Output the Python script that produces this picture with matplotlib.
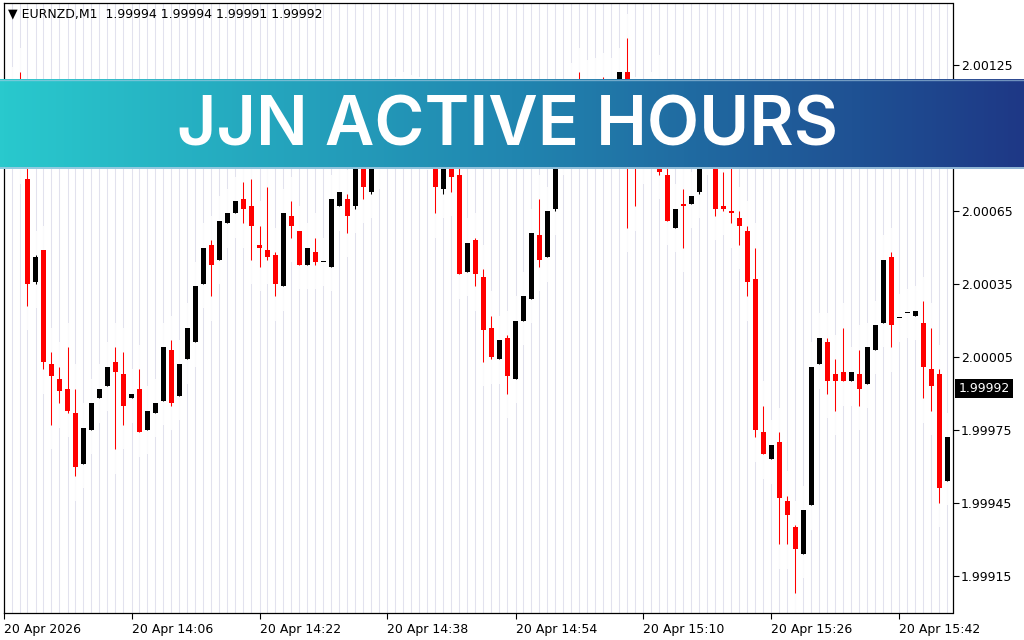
import matplotlib
matplotlib.use('Agg')
import matplotlib.pyplot as plt
import matplotlib.transforms as mtransforms
import numpy as np
from matplotlib.colors import LinearSegmentedColormap

# EURNZD M1 bars, 13:50 .. 15:48
opens = [2.00100, 2.00104, 2.00112, 2.00078, 2.00036, 2.00049, 2.00002, 1.99996, 1.99992, 1.99982,
         1.99961, 1.99975, 1.99988, 1.99993, 2.00003, 1.99998, 1.99988, 1.99992, 1.99975, 1.99982,
         1.99987, 2.00008, 1.99989, 2.00004, 2.00011, 2.00035, 2.00051, 2.00045, 2.00060, 2.00064,
         2.00070, 2.00067, 2.00051, 2.00049, 2.00047, 2.00034, 2.00063, 2.00057, 2.00043, 2.00048,
         2.00044, 2.00042, 2.00067, 2.00070, 2.00067, 2.00086, 2.00073, 2.00086, 2.00095, 2.00104,
         2.00099, 2.00108, 2.00101, 2.00106, 2.00095, 2.00074, 2.00086, 2.00080, 2.00040, 2.00053,
         2.00038, 2.00017, 2.00004, 2.00013, 1.99996, 2.00020, 2.00029, 2.00055, 2.00046, 2.00066,
         2.00092, 2.00104, 2.00118, 2.00108, 2.00114, 2.00116, 2.00108, 2.00115, 2.00122, 2.00100,
         2.00090, 2.00098, 2.00106, 2.00080, 2.00058, 2.00068, 2.00068, 2.00073, 2.00092, 2.00098,
         2.00067, 2.00065, 2.00062, 2.00057, 2.00037, 1.99974, 1.99963, 1.99970, 1.99946, 1.99935,
         1.99924, 1.99944, 2.00002, 2.00011, 1.99998, 1.99999, 1.99995, 1.99998, 1.99994, 2.00008,
         2.00019, 2.00046, 2.00021, 2.00023, 2.00022, 2.00019, 2.00000, 1.99998, 1.99954]
highs = [2.00108, 2.00114, 2.00122, 2.00086, 2.00047, 2.00049, 2.00007, 2.00001, 2.00009, 1.99992,
         1.99976, 1.99986, 1.99992, 2.00001, 2.00009, 2.00007, 1.99990, 2.00000, 1.99983, 1.99986,
         2.00009, 2.00012, 2.00002, 2.00017, 2.00034, 2.00050, 2.00053, 2.00061, 2.00064, 2.00069,
         2.00077, 2.00078, 2.00059, 2.00075, 2.00048, 2.00064, 2.00069, 2.00057, 2.00050, 2.00054,
         2.00044, 2.00070, 2.00073, 2.00072, 2.00090, 2.00090, 2.00088, 2.00098, 2.00108, 2.00110,
         2.00112, 2.00111, 2.00110, 2.00108, 2.00097, 2.00090, 2.00090, 2.00084, 2.00052, 2.00054,
         2.00041, 2.00022, 2.00012, 2.00014, 2.00020, 2.00030, 2.00056, 2.00070, 2.00065, 2.00094,
         2.00108, 2.00116, 2.00122, 2.00117, 2.00118, 2.00120, 2.00118, 2.00122, 2.00136, 2.00110,
         2.00103, 2.00112, 2.00119, 2.00084, 2.00066, 2.00074, 2.00071, 2.00095, 2.00104, 2.00104,
         2.00081, 2.00084, 2.00065, 2.00059, 2.00050, 1.99985, 1.99969, 1.99974, 1.99948, 1.99936,
         1.99942, 2.00001, 2.00013, 2.00013, 2.00004, 2.00017, 1.99999, 2.00008, 2.00009, 2.00018,
         2.00045, 2.00048, 2.00021, 2.00023, 2.00024, 2.00028, 2.00017, 2.00000, 1.99972]
lows = [2.00096, 2.00100, 2.00086, 2.00026, 2.00035, 2.00000, 1.99977, 1.99986, 1.99982, 1.99956,
        1.99961, 1.99975, 1.99988, 1.99993, 1.99967, 1.99977, 1.99988, 1.99974, 1.99975, 1.99982,
        1.99987, 1.99985, 1.99989, 2.00004, 2.00011, 2.00035, 2.00030, 2.00045, 2.00060, 2.00064,
        2.00060, 2.00045, 2.00042, 2.00045, 2.00030, 2.00034, 2.00054, 2.00043, 2.00043, 2.00043,
        2.00044, 2.00042, 2.00067, 2.00056, 2.00066, 2.00070, 2.00072, 2.00084, 2.00093, 2.00097,
        2.00097, 2.00098, 2.00099, 2.00092, 2.00064, 2.00072, 2.00073, 2.00039, 2.00040, 2.00034,
        2.00003, 2.00004, 2.00004, 1.99990, 1.99996, 2.00020, 2.00029, 2.00042, 2.00046, 2.00065,
        2.00090, 2.00102, 2.00104, 2.00106, 2.00102, 2.00104, 2.00106, 2.00113, 2.00058, 2.00067,
        2.00086, 2.00095, 2.00080, 2.00061, 2.00058, 2.00050, 2.00068, 2.00072, 2.00090, 2.00063,
        2.00065, 2.00060, 2.00051, 2.00030, 1.99972, 1.99965, 1.99963, 1.99928, 1.99928, 1.99908,
        1.99924, 1.99944, 2.00002, 1.99990, 1.99983, 1.99995, 1.99995, 1.99985, 1.99994, 2.00008,
        2.00019, 2.00009, 2.00021, 2.00023, 2.00022, 1.99988, 1.99983, 1.99945, 1.99954]
closes = [2.00104, 2.00112, 2.00088, 2.00035, 2.00046, 2.00003, 1.99997, 1.99991, 1.99983, 1.99960,
          1.99976, 1.99986, 1.99992, 2.00001, 1.99999, 1.99985, 1.99990, 1.99974, 1.99983, 1.99986,
          2.00009, 1.99986, 2.00002, 2.00017, 2.00034, 2.00050, 2.00043, 2.00061, 2.00064, 2.00069,
          2.00066, 2.00059, 2.00050, 2.00046, 2.00035, 2.00064, 2.00059, 2.00043, 2.00050, 2.00044,
          2.00044, 2.00070, 2.00073, 2.00063, 2.00088, 2.00075, 2.00086, 2.00095, 2.00104, 2.00099,
          2.00108, 2.00101, 2.00106, 2.00096, 2.00075, 2.00088, 2.00079, 2.00039, 2.00052, 2.00039,
          2.00016, 2.00005, 2.00012, 1.99997, 2.00020, 2.00030, 2.00056, 2.00045, 2.00065, 2.00092,
          2.00104, 2.00112, 2.00108, 2.00114, 2.00106, 2.00108, 2.00115, 2.00122, 2.00100, 2.00090,
          2.00098, 2.00106, 2.00081, 2.00061, 2.00066, 2.00067, 2.00071, 2.00092, 2.00102, 2.00066,
          2.00066, 2.00064, 2.00059, 2.00036, 1.99975, 1.99965, 1.99969, 1.99947, 1.99940, 1.99926,
          1.99942, 2.00001, 2.00013, 1.99995, 1.99995, 1.99995, 1.99999, 1.99992, 2.00009, 2.00018,
          2.00045, 2.00018, 2.00021, 2.00023, 2.00024, 2.00001, 1.99993, 1.99951, 1.99972]

xtick_bars = [0, 16, 32, 48, 64, 80, 96, 112]
xtick_labels = ['20 Apr 2026', '20 Apr 14:06', '20 Apr 14:22', '20 Apr 14:38',
                '20 Apr 14:54', '20 Apr 15:10', '20 Apr 15:26', '20 Apr 15:42']
yticks = [1.99915, 1.99945, 1.99975, 2.00005, 2.00035, 2.00065, 2.00095, 2.00125]
header = '\u25bc EURNZD,M1  1.99994 1.99994 1.99991 1.99992'
last_price = 1.99992
banner_text = 'JJN ACTIVE HOURS'

o = np.array(opens)
h = np.array(highs)
l = np.array(lows)
c = np.array(closes)
x = np.arange(len(o))
cols = np.where(c < o, '#ff0000', '#000000')

fig = plt.figure(figsize=(10.24, 6.4), dpi=100)
fig.patch.set_facecolor('white')
# left edge on a pixel centre so 1px wicks land on whole pixels
ax = fig.add_axes([3.5/1024, 27/640, 949/1024, 610/640])
ax.set_xlim(0, 949/8)
ax.set_ylim(1.998998, 2.001505)

# per-bar grid lines, cleared around each bar's range
ax.vlines(x, 1.998998, 2.001505, color='#e2e2ee', lw=0.75, zorder=0)
ax.vlines(x, l - 0.0001, h + 0.0001, color='white', lw=1.2, zorder=1)

ax.vlines(x, l, h, colors=cols, lw=0.75, zorder=2)
bottoms = np.minimum(o, c)
heights = np.maximum(np.abs(c - o), 0.000005)
ax.bar(x, heights, bottom=bottoms, width=0.625, color=cols, linewidth=0, zorder=3)

for s in ax.spines.values():
    s.set_color('black')
    s.set_linewidth(0.9)

ax.yaxis.tick_right()
ax.set_yticks(yticks)
ax.set_yticklabels(['%.5f' % v for v in yticks])
ax.tick_params(axis='y', direction='out', length=4, width=0.8, pad=2, labelsize=9, colors='black')
ax.set_xticks(xtick_bars)
ax.set_xticklabels(xtick_labels, ha='left')
ax.tick_params(axis='x', direction='out', length=4, width=0.8, pad=3, labelsize=9, colors='black')

ax.text(4/949, 1 - 11/610, header, transform=ax.transAxes, fontsize=9,
        va='center', ha='left', color='black')

tr = mtransforms.blended_transform_factory(ax.transAxes, ax.transData)
ax.text(1 + 6/949, last_price, '%.5f' % last_price, transform=tr, fontsize=9, color='white',
        ha='left', va='center',
        bbox=dict(boxstyle='square,pad=0.25', fc='black', ec='none'), clip_on=False)

# banner on top
bax = fig.add_axes([0, (640 - 169)/640, 1, 90/640], zorder=10)
cmap = LinearSegmentedColormap.from_list('banner', ['#29c9cd', '#2186b0', '#1e3886'])
grad = np.linspace(0, 1, 512).reshape(1, -1)
bax.imshow(grad, aspect='auto', cmap=cmap, extent=[0, 1, 0, 1])
bax.axhline(0.006, color='#a8cde4', lw=1.2)
bax.axhline(0.994, color='#a8cde4', lw=1.0, alpha=0.6)
bax.set_xlim(0, 1)
bax.set_ylim(0, 1)
bax.axis('off')
bax.text(0.496, 24/90, banner_text, fontsize=49, color='white', family='Inter',
         fontweight='semibold', ha='center', va='baseline')

plt.savefig('out.png', dpi=100)
